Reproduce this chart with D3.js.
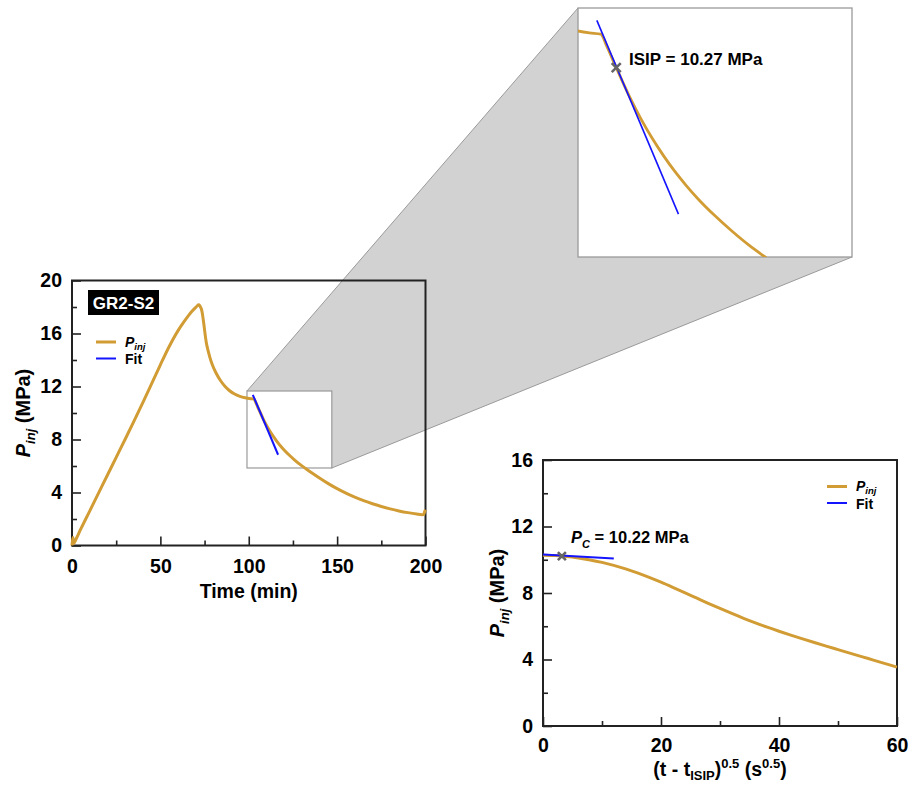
<!DOCTYPE html>
<html><head><meta charset="utf-8">
<script src="https://cdn.jsdelivr.net/npm/d3@7"></script>
<style>
html,body{margin:0;padding:0;background:#fff;}
svg{display:block;font-family:"Liberation Sans",Arial,sans-serif;}
</style></head>
<body>
<svg id="chart" width="918" height="785"></svg>
<script>
// ---------------- DATA ----------------
// Main test: injection pressure vs time
const timeMin = [0,0.5,1,2,5,10,15,20,25,30,35,40,45,50,55,60,63,66,68,70,71,71.6,72.2,72.7,73.2,73.7,74.2,74.7,75.3,76,77,78,79.5,81.5,84,86.5,89,92,95,98,101,103,104,105,105.7,108,110,112,114,116,118,120,123,126,129,132,136,140,145,150,155,160,165,170,175,180,185,190,195,198,199,199.5,200];
const pInjMain = [0,0.6,0.15,0.4,1.25,2.6,3.95,5.3,6.65,8.0,9.37,10.77,12.2,13.64,15.02,16.22,16.82,17.37,17.69,17.97,18.1,18.17,18.12,18.0,17.85,17.55,17.1,16.6,15.95,15.3,14.7,14.2,13.6,13.02,12.45,12.02,11.7,11.43,11.26,11.15,11.08,11.05,10.78,10.48,10.27,9.6,9.08,8.62,8.21,7.84,7.51,7.21,6.81,6.45,6.12,5.83,5.45,5.09,4.67,4.29,3.95,3.65,3.385,3.15,2.945,2.765,2.61,2.48,2.375,2.33,2.34,2.55,2.7];
const fitTime = [102.3, 116.6];
const fitPres = [11.37, 6.85];
const isipTime = 105.7, isipPres = 10.27;
const zoomWinX = [99, 147];
const zoomWinY = [5.85, 11.66];
const mainXTicks = [0,50,100,150,200], mainXMinor = [25,75,125,175];
const mainYTicks = [0,4,8,12,16,20], mainYMinor = [2,6,10,14,18];

// Closure analysis: pressure vs sqrt time since ISIP
const sqrtT = [0,2,4,6,8,10,12,14,16,18,20,22,24,26,28,30,32,34,36,38,40,42,44,46,48,50,52,54,56,58,60];
const pInjSqrt = [10.27,10.25,10.2,10.11,9.99,9.84,9.66,9.45,9.21,8.94,8.65,8.34,8.02,7.7,7.38,7.07,6.77,6.48,6.205,5.945,5.7,5.465,5.24,5.02,4.805,4.595,4.385,4.175,3.965,3.755,3.545];
const fit2S = [0, 12];
const fit2P = [10.31, 10.08];
const pcS = 3.2, pcP = 10.22;
const sqXTicks = [0,20,40,60], sqXMinor = [10,30,50];
const sqYTicks = [0,4,8,12,16], sqYMinor = [2,6,10,14];

// ---------------- STYLE ----------------
const ORANGE = "#D29C35", BLUE = "#1414FF", AXIS = "#222";
const svg = d3.select("#chart");

function styleAxis(g, fs) {
  g.select(".domain").remove();
  g.selectAll("line").attr("stroke", AXIS).attr("stroke-width", 1.6);
  g.selectAll("text").attr("fill", "#000").attr("font-size", fs).attr("font-weight", "bold")
    .attr("font-family", '"Liberation Sans",Arial,sans-serif');
}
function drawAxes(g, x, y, w, h, xT, xM, yT, yM, padX) {
  const fs = 19.5;
  g.append("g").attr("transform", `translate(0,${h})`)
    .call(d3.axisBottom(x).tickValues(xM).tickSize(-5).tickFormat("")).call(a => styleAxis(a, fs));
  g.append("g").attr("transform", `translate(0,${h})`)
    .call(d3.axisBottom(x).tickValues(xT).tickSize(-9).tickPadding(padX).tickFormat(d3.format("d"))).call(a => styleAxis(a, fs));
  g.append("g").call(d3.axisLeft(y).tickValues(yM).tickSize(-5).tickFormat("")).call(a => styleAxis(a, fs));
  g.append("g").call(d3.axisLeft(y).tickValues(yT).tickSize(-9).tickPadding(10).tickFormat(d3.format("d"))).call(a => styleAxis(a, fs));
  g.append("rect").attr("x", 0).attr("y", 0).attr("width", w).attr("height", h)
    .attr("fill", "none").attr("stroke", AXIS).attr("stroke-width", 2);
}
function yTitle(g, cx, cy) {
  const t = g.append("text").attr("transform", `translate(${cx},${cy}) rotate(-90)`)
    .attr("text-anchor", "middle").attr("font-weight", "bold").attr("font-size", 20).attr("dy", "0.35em");
  t.append("tspan").attr("font-style", "italic").text("P");
  t.append("tspan").attr("font-style", "italic").attr("font-size", 13).attr("dy", 5).text("inj");
  t.append("tspan").attr("dy", -5).text(" (MPa)");
}
function legend(g, x0, y0, dyRow) {
  g.append("line").attr("x1", x0).attr("x2", x0 + 20).attr("y1", y0).attr("y2", y0)
    .attr("stroke", ORANGE).attr("stroke-width", 3);
  g.append("line").attr("x1", x0).attr("x2", x0 + 20).attr("y1", y0 + dyRow).attr("y2", y0 + dyRow)
    .attr("stroke", BLUE).attr("stroke-width", 2);
  const t1 = g.append("text").attr("x", x0 + 29).attr("y", y0 + 4.5).attr("font-weight", "bold").attr("font-size", 14);
  t1.append("tspan").attr("font-style", "italic").text("P");
  t1.append("tspan").attr("font-style", "italic").attr("font-size", 9.5).attr("dy", 3).text("inj");
  g.append("text").attr("x", x0 + 29).attr("y", y0 + dyRow + 5.5).attr("font-weight", "bold").attr("font-size", 14).text("Fit");
}
function cross(g, cx, cy, r, sw) {
  g.append("path").attr("d", `M${cx - r},${cy - r}L${cx + r},${cy + r}M${cx - r},${cy + r}L${cx + r},${cy - r}`)
    .attr("stroke", "#666").attr("stroke-width", sw).attr("fill", "none");
}

// ---------------- MAIN CHART ----------------
const M = {left: 72, top: 280.5, right: 425.5, bottom: 545.5};
const mw = M.right - M.left, mh = M.bottom - M.top;
const x1 = d3.scaleLinear().domain([0, 200]).range([0, mw]);
const y1 = d3.scaleLinear().domain([0, 20]).range([mh, 0]);

// inset placement
const I = {left: 578, top: 8, right: 852, bottom: 257};
const bx0 = M.left + x1(zoomWinX[0]), bx1 = M.left + x1(zoomWinX[1]);
const by0 = M.top + y1(zoomWinY[1]), by1 = M.top + y1(zoomWinY[0]);

// grey connector (below the main chart's frame and curve)
svg.append("path")
  .attr("d", `M${bx0},${by0}L${I.left},${I.top}L${I.right},${I.top}L${I.right},${I.bottom}L${bx1},${by1}L${bx0},${by1}Z`)
  .attr("fill", "#D2D2D2").attr("stroke", "none");
svg.append("line").attr("x1", bx0).attr("y1", by0).attr("x2", I.left).attr("y2", I.top).attr("stroke", "#9a9a9a").attr("stroke-width", 1);
svg.append("line").attr("x1", bx1).attr("y1", by1).attr("x2", I.right).attr("y2", I.bottom).attr("stroke", "#9a9a9a").attr("stroke-width", 1);
svg.append("rect").attr("x", bx0).attr("y", by0).attr("width", bx1 - bx0).attr("height", by1 - by0)
  .attr("fill", "#fff").attr("stroke", "#9a9a9a").attr("stroke-width", 1.2);

const gMain = svg.append("g").attr("transform", `translate(${M.left},${M.top})`);
drawAxes(gMain, x1, y1, mw, mh, mainXTicks, mainXMinor, mainYTicks, mainYMinor, 14);

const mainData = timeMin.map((t, i) => [t, pInjMain[i]]);
gMain.append("path").datum(mainData)
  .attr("d", d3.line().x(d => x1(d[0])).y(d => y1(d[1])).curve(d3.curveMonotoneX))
  .attr("fill", "none").attr("stroke", ORANGE).attr("stroke-width", 3).attr("stroke-linejoin", "round");
gMain.append("line").attr("x1", x1(fitTime[0])).attr("y1", y1(fitPres[0])).attr("x2", x1(fitTime[1])).attr("y2", y1(fitPres[1]))
  .attr("stroke", BLUE).attr("stroke-width", 2);

// sample label
gMain.append("rect").attr("x", 16).attr("y", 9.5).attr("width", 71).attr("height", 25).attr("fill", "#000");
gMain.append("text").attr("x", 51.5).attr("y", 28).attr("text-anchor", "middle").attr("fill", "#fff")
  .attr("font-weight", "bold").attr("font-size", 17).text("GR2-S2");
legend(gMain, 24, 61.5, 16.5);

svg.append("text").attr("x", M.left + mw / 2).attr("y", 598).attr("text-anchor", "middle")
  .attr("font-weight", "bold").attr("font-size", 19.5).text("Time (min)");
yTitle(svg, 23, M.top + mh / 2);

// ---------------- INSET ----------------
const iw = I.right - I.left, ih = I.bottom - I.top;
const xi = d3.scaleLinear().domain(zoomWinX).range([0, iw]);
const yi = d3.scaleLinear().domain(zoomWinY).range([ih, 0]);
const gIn = svg.append("g").attr("transform", `translate(${I.left},${I.top})`);
gIn.append("rect").attr("width", iw).attr("height", ih).attr("fill", "#fff").attr("stroke", "#9a9a9a").attr("stroke-width", 1.3);
svg.append("clipPath").attr("id", "clipIn").append("rect").attr("width", iw).attr("height", ih);
const gInC = gIn.append("g").attr("clip-path", "url(#clipIn)");
gInC.append("path").datum(mainData)
  .attr("d", d3.line().x(d => xi(d[0])).y(d => yi(d[1])).curve(d3.curveMonotoneX))
  .attr("fill", "none").attr("stroke", ORANGE).attr("stroke-width", 2.8);
gInC.append("line").attr("x1", xi(fitTime[0])).attr("y1", yi(fitPres[0])).attr("x2", xi(fitTime[1])).attr("y2", yi(fitPres[1]))
  .attr("stroke", BLUE).attr("stroke-width", 1.6);
cross(gIn, xi(isipTime), yi(isipPres), 4.5, 2.6);
gIn.append("text").attr("x", 51).attr("y", 57).attr("font-weight", "bold").attr("font-size", 17)
  .text(`ISIP = ${isipPres.toFixed(2)} MPa`);

// ---------------- SQRT-TIME CHART ----------------
const B = {left: 543, top: 460, right: 897, bottom: 726};
const bw = B.right - B.left, bh = B.bottom - B.top;
const x2 = d3.scaleLinear().domain([0, 60]).range([0, bw]);
const y2 = d3.scaleLinear().domain([0, 16]).range([bh, 0]);
const gB = svg.append("g").attr("transform", `translate(${B.left},${B.top})`);
drawAxes(gB, x2, y2, bw, bh, sqXTicks, sqXMinor, sqYTicks, sqYMinor, 12);
const sqData = sqrtT.map((s, i) => [s, pInjSqrt[i]]);
gB.append("path").datum(sqData)
  .attr("d", d3.line().x(d => x2(d[0])).y(d => y2(d[1])).curve(d3.curveMonotoneX))
  .attr("fill", "none").attr("stroke", ORANGE).attr("stroke-width", 3);
gB.append("line").attr("x1", x2(fit2S[0])).attr("y1", y2(fit2P[0])).attr("x2", x2(fit2S[1])).attr("y2", y2(fit2P[1]))
  .attr("stroke", BLUE).attr("stroke-width", 2);
cross(gB, x2(pcS), y2(pcP), 4, 2.6);
const pcT = gB.append("text").attr("x", 28).attr("y", 83).attr("font-weight", "bold").attr("font-size", 16.5);
pcT.append("tspan").attr("font-style", "italic").text("P");
pcT.append("tspan").attr("font-style", "italic").attr("font-size", 11).attr("dy", 5).text("C");
pcT.append("tspan").attr("dy", -5).text(` = ${pcP.toFixed(2)} MPa`);
legend(gB, 284, 26.5, 16.5);

const xt = svg.append("text").attr("x", B.left + bw / 2).attr("y", 776).attr("text-anchor", "middle")
  .attr("font-weight", "bold").attr("font-size", 19.5);
xt.append("tspan").text("(t - t");
xt.append("tspan").attr("font-size", 13).attr("dy", 4).text("ISIP");
xt.append("tspan").attr("dy", -4).text(")");
xt.append("tspan").attr("font-size", 13).attr("dy", -8).text("0.5");
xt.append("tspan").attr("dy", 8).text(" (s");
xt.append("tspan").attr("font-size", 13).attr("dy", -8).text("0.5");
xt.append("tspan").attr("dy", 8).text(")");
yTitle(svg, 497, B.top + bh / 2);
</script>
</body></html>
